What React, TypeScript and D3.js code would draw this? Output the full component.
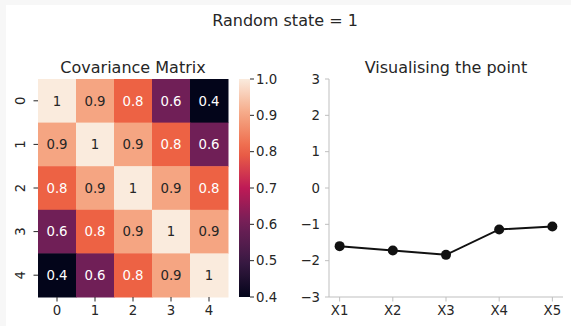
import React from "react";
import * as d3 from "d3";

const labels = ["0", "1", "2", "3", "4"];
const cov = [
  [1, 0.9, 0.8, 0.6, 0.4],
  [0.9, 1, 0.9, 0.8, 0.6],
  [0.8, 0.9, 1, 0.9, 0.8],
  [0.6, 0.8, 0.9, 1, 0.9],
  [0.4, 0.6, 0.8, 0.9, 1],
];
const cbTicks = [0.4, 0.5, 0.6, 0.7, 0.8, 0.9, 1.0];
const pointLabels = ["X1", "X2", "X3", "X4", "X5"];
const pointValues = [-1.6, -1.72, -1.84, -1.14, -1.06];
const yTicks = [-3, -2, -1, 0, 1, 2, 3];

const rocketStops = ["#03051A", "#3B1A44", "#701F57", "#BE1A56", "#ED6244", "#F5A582", "#FAEBDD"];
const rocket = d3.scaleLinear<string>()
  .domain(d3.range(rocketStops.length).map((i) => i / (rocketStops.length - 1)))
  .range(rocketStops)
  .interpolate(d3.interpolateRgb);

const FONT = "DejaVu Sans, sans-serif";
const TXT = "#262626";

export default function App() {
  const W = 571, H = 326;
  // heatmap geometry
  const hx = d3.scaleBand<string>().domain(labels).range([38, 228]);
  const hy = d3.scaleBand<string>().domain(labels).range([79, 297]);
  const cval = d3.scaleLinear().domain([0.4, 1.0]).range([0, 1]);
  const color = (v: number) => rocket(cval(v));
  const cbY = d3.scaleLinear().domain([0.4, 1.0]).range([297, 79]);
  const cbX0 = 239, cbX1 = 250;
  // line plot geometry
  const px = d3.scaleLinear().domain([-0.2, 4.2]).range([329, 563]);
  const py = d3.scaleLinear().domain([-3, 3]).range([297, 79]);
  const line = d3.line<number>().x((_, i) => px(i)).y((d) => py(d));

  const lum = (c: string) => {
    const rgb = d3.rgb(c);
    const f = (v: number) => {
      v /= 255;
      return v <= 0.03928 ? v / 12.92 : Math.pow((v + 0.055) / 1.055, 2.4);
    };
    return 0.2126 * f(rgb.r) + 0.7152 * f(rgb.g) + 0.0722 * f(rgb.b);
  };

  const gradStops = d3.range(0, 1.0001, 0.05);

  return (
    <svg width={W} height={H} style={{ position: "absolute", left: 0, top: 0, fontFamily: FONT }}>
      <defs>
        <linearGradient id="cb" x1="0" y1="1" x2="0" y2="0">
          {gradStops.map((t) => (
            <stop key={t} offset={t} stopColor={rocket(t)} />
          ))}
        </linearGradient>
      </defs>
      <rect x={0} y={0} width={W} height={H} fill="#f7f7f7" />
      <rect x={6} y={5} width={W - 6} height={H - 5} fill="#ffffff" />
      <text x={285} y={26} textAnchor="middle" fontSize={16} fill={TXT}>Random state = 1</text>

      {/* Heatmap */}
      <text x={133} y={73} textAnchor="middle" fontSize={16} fill={TXT}>Covariance Matrix</text>
      {cov.map((row, i) =>
        row.map((v, j) => {
          const c = color(v);
          return (
            <g key={`${i}-${j}`}>
              <rect x={hx(labels[j])} y={hy(labels[i])} width={hx.bandwidth() + 0.5} height={hy.bandwidth() + 0.5} fill={c} />
              <text
                x={hx(labels[j])! + hx.bandwidth() / 2}
                y={hy(labels[i])! + hy.bandwidth() / 2}
                dy="0.36em"
                textAnchor="middle"
                fontSize={13.3}
                fill={lum(c) > 0.408 ? TXT : "#ffffff"}
              >
                {d3.format(".2~g")(v)}
              </text>
            </g>
          );
        })
      )}
      {labels.map((l) => {
        const x = hx(l)! + hx.bandwidth() / 2;
        return (
          <g key={"hxt" + l}>
            <line x1={x} x2={x} y1={297} y2={301.5} stroke={TXT} strokeWidth={1} />
            <text x={x} y={315} textAnchor="middle" fontSize={13.3} fill={TXT}>{l}</text>
          </g>
        );
      })}
      {labels.map((l) => {
        const y = hy(l)! + hy.bandwidth() / 2;
        return (
          <g key={"hyt" + l}>
            <line x1={33.5} x2={38} y1={y} y2={y} stroke={TXT} strokeWidth={1} />
            <text transform={`translate(25,${y}) rotate(-90)`} textAnchor="middle" fontSize={13.3} fill={TXT}>{l}</text>
          </g>
        );
      })}

      {/* Colorbar */}
      <rect x={cbX0} y={79} width={cbX1 - cbX0} height={218} fill="url(#cb)" />
      {cbTicks.map((t) => (
        <g key={"cb" + t}>
          <line x1={cbX1} x2={cbX1 + 4} y1={cbY(t)} y2={cbY(t)} stroke={TXT} strokeWidth={1} />
          <text x={cbX1 + 6} y={cbY(t)} dy="0.36em" fontSize={13.3} fill={TXT}>{d3.format(".1f")(t)}</text>
        </g>
      ))}

      {/* Line plot */}
      <text x={446} y={73} textAnchor="middle" fontSize={16} fill={TXT}>Visualising the point</text>
      <line x1={329} x2={329} y1={79} y2={297} stroke="#bfbfbf" strokeWidth={1} />
      <line x1={329} x2={563} y1={297} y2={297} stroke="#bfbfbf" strokeWidth={1} />
      {yTicks.map((t) => (
        <g key={"py" + t}>
          <line x1={325} x2={329} y1={py(t)} y2={py(t)} stroke="#bfbfbf" strokeWidth={1} />
          <text x={320} y={py(t)} dy="0.36em" textAnchor="end" fontSize={13.3} fill={TXT}>
            {t < 0 ? "\u2212" + Math.abs(t) : String(t)}
          </text>
        </g>
      ))}
      {pointLabels.map((l, i) => (
        <g key={"px" + l}>
          <line x1={px(i)} x2={px(i)} y1={297} y2={301.5} stroke="#bfbfbf" strokeWidth={1} />
          <text x={px(i)} y={315} textAnchor="middle" fontSize={13.3} fill={TXT}>{l}</text>
        </g>
      ))}
      <path d={line(pointValues)!} fill="none" stroke="#111111" strokeWidth={2} />
      {pointValues.map((v, i) => (
        <circle key={"pt" + i} cx={px(i)} cy={py(v)} r={5} fill="#111111" />
      ))}
    </svg>
  );
}
